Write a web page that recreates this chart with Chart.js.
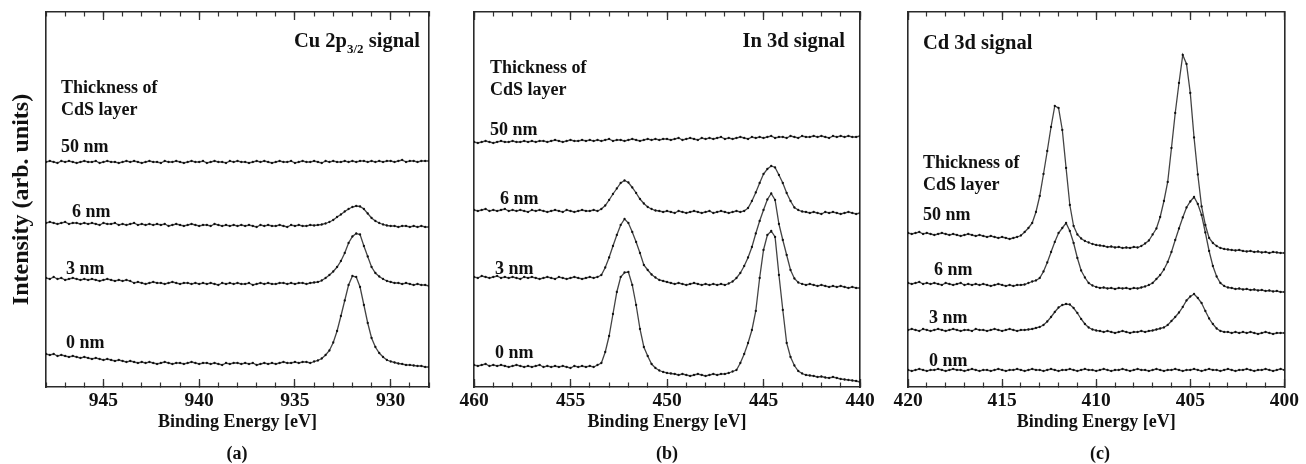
<!DOCTYPE html>
<html><head><meta charset="utf-8">
<script src="https://cdn.jsdelivr.net/npm/chart.js@4.4.1/dist/chart.umd.min.js"></script>
<style>
html,body{margin:0;padding:0;background:#fff;}
#wrap{position:relative;width:1306px;height:464px;overflow:hidden;background:#fff;}
canvas{position:absolute;left:0;top:0;}
.lbl{position:absolute;font-family:'Liberation Serif','Times New Roman',serif;font-weight:bold;color:#111;line-height:1;white-space:nowrap;transform:translateY(-50%);font-size:18px;}
.sig{font-size:20.5px;}
.cap{transform:translate(-50%,-50%);}
</style></head><body>
<div id="wrap">
<canvas id="ca" width="1306" height="464"></canvas>
<canvas id="cb" width="1306" height="464"></canvas>
<canvas id="cc" width="1306" height="464"></canvas>

<div class="lbl sig" style="right:886px;top:40px;">Cu 2p<span style="font-size:13px;position:relative;top:6px;">3/2</span> signal</div>
<div class="lbl" style="left:61px;top:87px;">Thickness of</div>
<div class="lbl" style="left:61px;top:109px;">CdS layer</div>
<div class="lbl" style="left:61px;top:146px;">50 nm</div>
<div class="lbl" style="left:72px;top:211px;">6 nm</div>
<div class="lbl" style="left:66px;top:268px;">3 nm</div>
<div class="lbl" style="left:66px;top:342px;">0 nm</div>
<div class="lbl cap" style="left:237px;top:453px;">(a)</div>

<div class="lbl sig" style="right:461px;top:40px;">In 3d signal</div>
<div class="lbl" style="left:490px;top:67px;">Thickness of</div>
<div class="lbl" style="left:490px;top:89px;">CdS layer</div>
<div class="lbl" style="left:490px;top:129px;">50 nm</div>
<div class="lbl" style="left:500px;top:198px;">6 nm</div>
<div class="lbl" style="left:495px;top:268px;">3 nm</div>
<div class="lbl" style="left:495px;top:352px;">0 nm</div>
<div class="lbl cap" style="left:667px;top:453px;">(b)</div>

<div class="lbl sig" style="left:923px;top:42px;">Cd 3d signal</div>
<div class="lbl" style="left:923px;top:162px;">Thickness of</div>
<div class="lbl" style="left:923px;top:184px;">CdS layer</div>
<div class="lbl" style="left:923px;top:214px;">50 nm</div>
<div class="lbl" style="left:934px;top:269px;">6 nm</div>
<div class="lbl" style="left:929px;top:317px;">3 nm</div>
<div class="lbl" style="left:929px;top:360px;">0 nm</div>
<div class="lbl cap" style="left:1100px;top:453px;">(c)</div>
</div>
<script>
// ---------------- data ----------------
const energyA = [948,947.8,947.6,947.4,947.2,947,946.8,946.6,946.4,946.2,946,945.8,945.6,945.4,945.2,945,944.8,944.6,944.4,944.2,944,943.8,943.6,943.4,943.2,943,942.8,942.6,942.4,942.2,942,941.8,941.6,941.4,941.2,941,940.8,940.6,940.4,940.2,940,939.8,939.6,939.4,939.2,939,938.8,938.6,938.4,938.2,938,937.8,937.6,937.4,937.2,937,936.8,936.6,936.4,936.2,936,935.8,935.6,935.4,935.2,935,934.8,934.6,934.4,934.2,934,933.8,933.6,933.4,933.2,933,932.8,932.6,932.4,932.2,932,931.8,931.6,931.4,931.2,931,930.8,930.6,930.4,930.2,930,929.8,929.6,929.4,929.2,929,928.8,928.6,928.4,928.2,928];
const energyB = [460,459.8,459.6,459.4,459.2,459,458.8,458.6,458.4,458.2,458,457.8,457.6,457.4,457.2,457,456.8,456.6,456.4,456.2,456,455.8,455.6,455.4,455.2,455,454.8,454.6,454.4,454.2,454,453.8,453.6,453.4,453.2,453,452.8,452.6,452.4,452.2,452,451.8,451.6,451.4,451.2,451,450.8,450.6,450.4,450.2,450,449.8,449.6,449.4,449.2,449,448.8,448.6,448.4,448.2,448,447.8,447.6,447.4,447.2,447,446.8,446.6,446.4,446.2,446,445.8,445.6,445.4,445.2,445,444.8,444.6,444.4,444.2,444,443.8,443.6,443.4,443.2,443,442.8,442.6,442.4,442.2,442,441.8,441.6,441.4,441.2,441,440.8,440.6,440.4,440.2,440];
const energyC = [420,419.8,419.6,419.4,419.2,419,418.8,418.6,418.4,418.2,418,417.8,417.6,417.4,417.2,417,416.8,416.6,416.4,416.2,416,415.8,415.6,415.4,415.2,415,414.8,414.6,414.4,414.2,414,413.8,413.6,413.4,413.2,413,412.8,412.6,412.4,412.2,412,411.8,411.6,411.4,411.2,411,410.8,410.6,410.4,410.2,410,409.8,409.6,409.4,409.2,409,408.8,408.6,408.4,408.2,408,407.8,407.6,407.4,407.2,407,406.8,406.6,406.4,406.2,406,405.8,405.6,405.4,405.2,405,404.8,404.6,404.4,404.2,404,403.8,403.6,403.4,403.2,403,402.8,402.6,402.4,402.2,402,401.8,401.6,401.4,401.2,401,400.8,400.6,400.4,400.2,400];

// Cu 2p3/2 (panel a)
const cu50 = [225,226,225,224,226,225,226,225,224,225,226,225,225,226,224,225,226,225,225,224,225,226,225,226,225,224,225,226,225,225,224,226,225,225,226,225,224,225,226,225,225,226,224,225,226,225,225,224,226,225,226,225,225,224,225,226,225,226,225,224,225,226,225,225,226,224,225,226,225,225,226,225,224,226,225,226,225,225,226,225,226,225,226,226,225,226,225,226,225,226,226,225,226,227,225,226,226,225,226,226,226];
const cu6 = [164,165,164,163,164,165,163,164,164,163,164,163,164,163,162,164,163,163,164,162,163,162,163,164,162,163,162,163,162,163,162,163,161,162,163,162,161,162,163,162,161,162,162,161,163,162,161,162,161,162,161,162,161,162,161,160,162,161,162,161,161,162,161,160,162,161,162,161,161,162,161.5,162,162.5,163.5,165,167,170,172.5,175.5,178,180,181,180.5,178,173.5,169,166,164,162.5,161.5,161,161,160,161,161,160,161,160,161,160,160];
const cu3 = [109,108,110,108,109,107,108,109,108,107,108,107,108,107,106,107,108,107,106,107,106,107,106,104,105,104,103,104,105,104,104,103,104,105,104,103,104,104,103,104,103,104,103,104,103,102,104,103,104,103,104,103,103,104,102,103,104,103,104,103,103,104,104,103,104,103,104,104,103,104,104.5,105,106.5,109,112,115.5,120,126,134,144,150.5,153.5,152.5,141,130.5,120,114,110.5,108,106,105,104,104,103,104,103,102,103,102,102,101];
const cu0 = [33,32,33,31,32,31,30,31,30,29,30,29,28,29,28,27,28,27,26,27,26,25,26,25,24,25,24,25,24,23,24,25,24,23,24,24,23,24,25,24,23,24,24,23,24,23,22,24,23,24,24,23,24,23,24,22,23,24,23,24,23,24,25,24,24,25,24,25,25,24,25.5,26.5,28.5,32,36.5,44.5,56,71,86.5,102,111,110,100,82,64,49,40,34,30,27,25.5,24.5,23.5,23,22,22,21.5,21,21,20,20];

// In 3d (panel b)
const in50 = [245,244,245,246,245,244,245,246,245,245,246,245,245,246,245,246,245,246,246,245,246,247,246,245,246,247,246,246,247,246,247,246,247,246,247,248,246,247,247,246,247,248,247,246,247,248,247,248,247,248,248,247,248,249,247,248,249,248,247,249,248,249,248,249,250,248,249,248,249,250,249,248,250,249,250,249,250,251,249,250,250,249,251,250,249,251,250,250,251,250,251,250,249,251,250,251,250,251,250,250,251];
const in6 = [177,176,177,178,176,177,176,177,178,176,177,176,177,176,175,177,176,177,176,175,176,177,176,175,177,176,175,176,177,176,176,177,176,178,181.5,187,193,198.5,204,206.5,204.5,199.5,194,188,183.5,180,178,176.5,176,175,176,175,174,176,175,174,175,176,175,174,175,176,174,175,176,175,174,175,176,175,176,179,186,194.5,204,213,218,221,219.5,212,204,194,186,179.5,177,175.5,175,174,175,174,173,175,174,175,174,173,174,175,174,173,174];
const in3 = [110,109,111,110,109,110,111,109,110,109,110,109,108,110,109,110,109,108,109,110,109,108,110,109,108,109,110,109,108,109,110,109,110,112,119.5,129.5,141,152,162,168,164,155,145,134,122,117,112.5,109.5,107,106,105,104,103,104,103,102,103,104,103,102,103,102,103,102,103,102,103.5,105.5,109,114,121,129.5,140,153.5,166,177,187.5,193.5,187,163,147,132,117,108.5,104.5,103,102,103,102,101,102,101,100,101,100,101,100,99,100,99,99];
const in0 = [22,21,22,23,21,22,21,22,21,20,21,22,21,20,21,20,21,22,20,21,20,21,20,21,20,19,21,20,21,20,21,20,22,24,35,51,73,95,110,114.5,115,102,82,58,40,31,23,19,16.5,15,14,13.5,13,12,13,12,11,12,13,12,11,12,13,12,13,13,14,15.5,17,24,33,44,57,76,109,137,152,156,150,112,77,44,30,21.5,16,13.5,12,11.5,11,10,10.5,9.5,9,10,9,8,7.5,7,6.5,6,5];

// Cd 3d (panel c)
const cd50 = [154,153,154,155,153,154,153,152,153,154,153,152,153,152,151,152,153,152,151,152,151,150,151,150,149,150,149,148,149,150,151.5,155,159,164,175,191,213,236,260,281,279,257,219,182,161,152.5,148.5,146,144.5,143,142,141.5,141,140,140.5,139.5,140,139,139.5,139,140,139.5,141,143.5,146.5,152.5,158.5,170,186,205,239,274,304,332,323,294,249.5,212.5,180.5,162,149,144,141,139,138,137.5,137,136.5,137,136,135.5,136,135,135.5,134.5,135,134,135,134.5,134,134];
const cd6 = [104,103,104,105,103,104,103,104,103,102,104,103,102,103,104,102,103,102,103,102,103,102,101,102,103,102,101,102,101,102,102,102.5,104,105.5,106.5,109,115.5,124.5,135,145,154,159,164,156,144,129,116.5,109.5,104,101.5,100,99,99.5,98.5,99,98,99,98.5,99,98,99,98.5,99.5,100.5,102,104,108,112,117.5,125,135,147,158.5,169.5,179.5,185.5,190,183,172,154.5,136,121,110.5,104,101,99.5,99,98,98.5,97.5,98,97,97.5,96.5,97,96,96.5,95.5,96,95,95];
const cd3 = [57,58,57,56,58,57,56,57,58,57,56,57,58,57,56,57,57,56,58,57,57,56,57,58,57,56,57,58,57,56,57,57,57.5,58,59,60,62,65.5,70,75,79.5,82,83,82.5,79,74,68,63,59.5,57.5,56.5,56,55,56,55,54,55,56,55,54,55,55,56,55,56,56.5,57.5,58.5,59.5,62,66,70,74.5,80,86.5,90.5,93,89,84,76,68.5,63,58.5,56,55,55,54,55,54,55,54,55,54,53,54,55,54,53,54,54,54];
const cd0 = [17,16,17,18,17,16,17,17,18,17,16,17,18,17,17,16,17,18,17,16,17,17,16,17,18,17,16,17,17,18,17,16,17,18,17,17,16,17,18,17,16,17,17,18,17,16,17,18,17,17,16,17,18,17,16,17,17,18,17,16,17,18,17,17,16,17,18,17,16,17,17,18,17,16,17,17,18,17,16,17,18,17,17,16,17,18,17,16,17,17,18,17,16,17,17,18,17,16,17,18,17];

// labelled (major) ticks
const ticksA = [945, 940, 935, 930];
const ticksB = [460, 455, 450, 445, 440];
const ticksC = [420, 415, 410, 405, 400];

// ---------------- drawing ----------------
const FONT = "'Liberation Serif','Times New Roman',serif";

function axisX(pos, weight, min, max, opts) {
  return Object.assign({
    type: 'linear', position: pos, weight: weight, min: min, max: max, reverse: true,
    ticks: { display: false, stepSize: 1, autoSkip: false },
    grid: { drawOnChartArea: false, drawTicks: true, tickLength: -4.5, tickColor: '#333', tickWidth: 1.2 },
    border: { display: false },
    afterFit: s => { s.height = 0; }
  }, opts || {});
}

function makePanel(id, energies, series, min, max, majors, pad, yTitle) {
  const datasets = series.map(vals => ({
    data: energies.map((e, i) => ({ x: e, y: vals[i] })),
    borderColor: 'rgba(20,20,20,0.8)', borderWidth: 1.3,
    pointRadius: 1.15, pointBackgroundColor: '#111', pointBorderWidth: 0, pointHoverRadius: 0,
    tension: 0, fill: false, xAxisID: 'x', yAxisID: 'y'
  }));
  const setMajor = axis => { axis.ticks = majors.map(v => ({ value: v })); };
  const majorGrid = { drawOnChartArea: false, drawTicks: true, tickLength: -8, tickColor: '#333', tickWidth: 1.3 };
  new Chart(document.getElementById(id), {
    type: 'line',
    data: { datasets },
    options: {
      responsive: false, animation: false, events: [],
      layout: { padding: pad },
      plugins: { legend: { display: false }, tooltip: { enabled: false } },
      scales: {
        xMaj: axisX('bottom', 0, min, max, { grid: majorGrid, afterBuildTicks: setMajor }),
        x: axisX('bottom', 1, min, max, {
          ticks: {
            display: true, stepSize: 1, autoSkip: false, maxRotation: 0, padding: 7,
            color: '#111', font: { family: FONT, weight: 'bold', size: 19.5 },
            callback: v => (majors.includes(v) ? String(v) : '')
          },
          border: { display: true, color: '#2a2a2a', width: 1.6 },
          title: { display: true, text: 'Binding Energy [eV]', color: '#111',
                   font: { family: FONT, weight: 'bold', size: 18 }, padding: { top: 0, bottom: 16 } },
          afterFit: s => { s.height = 62; }
        }),
        xt: axisX('top', 0, min, max, { border: { display: true, color: '#2a2a2a', width: 1.6 } }),
        xtMaj: axisX('top', 1, min, max, { grid: majorGrid, afterBuildTicks: setMajor }),
        y: {
          type: 'linear', position: 'left', min: 0, max: 375,
          ticks: { display: false }, grid: { display: false, drawTicks: false },
          border: { display: true, color: '#2a2a2a', width: 1.6 },
          title: { display: !!yTitle, text: 'Intensity (arb. units)', color: '#111',
                   font: { family: FONT, weight: 'bold', size: 24 }, padding: { top: 7, bottom: 0 } },
          afterFit: s => { s.width = yTitle ? 46 : 0; }
        },
        yr: {
          type: 'linear', position: 'right', min: 0, max: 375,
          ticks: { display: false }, grid: { display: false, drawTicks: false },
          border: { display: true, color: '#2a2a2a', width: 1.6 },
          afterFit: s => { s.width = 0; }
        }
      }
    }
  });
}

makePanel('ca', energyA, [cu50, cu6, cu3, cu0], 928, 948, ticksA,
  { left: 0, right: 877, top: 12, bottom: 15 }, true);
makePanel('cb', energyB, [in50, in6, in3, in0], 440, 460, ticksB,
  { left: 474, right: 446, top: 12, bottom: 15 }, false);
makePanel('cc', energyC, [cd50, cd6, cd3, cd0], 400, 420, ticksC,
  { left: 908, right: 15, top: 12, bottom: 15 }, false);
</script>
</body></html>
